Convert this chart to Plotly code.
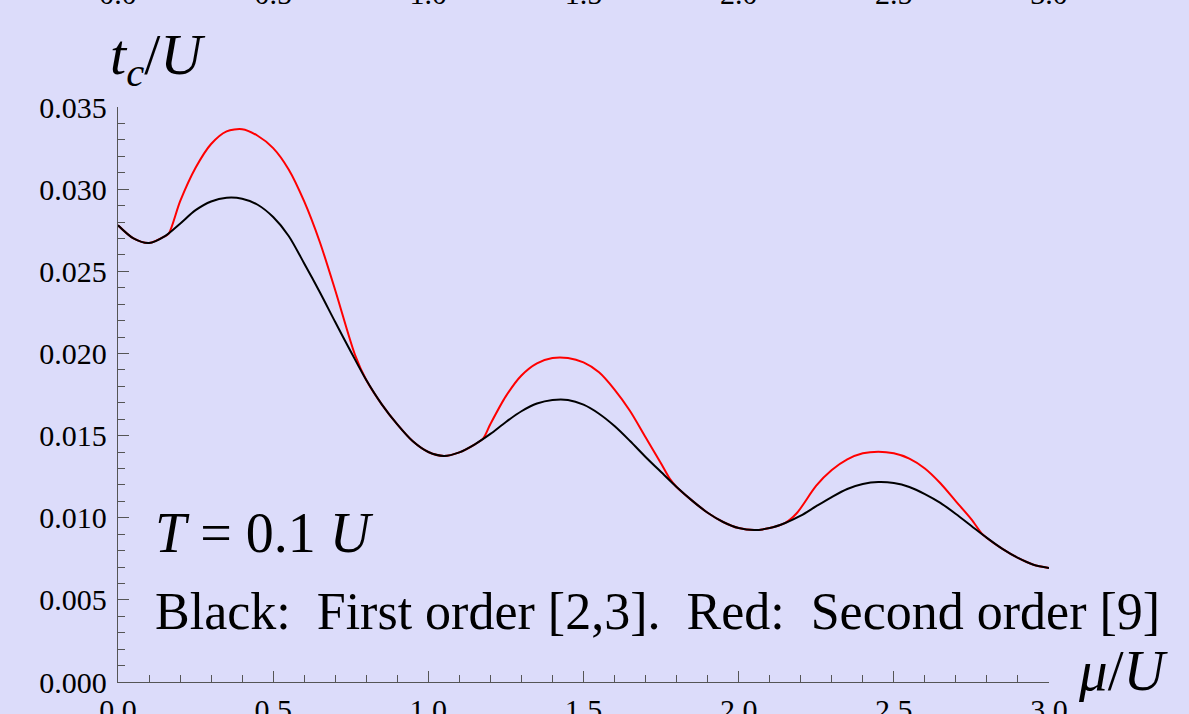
import plotly.graph_objects as go

# Black: first order
mu_black = [0.00, 0.05, 0.10, 0.15, 0.20, 0.25, 0.30, 0.35, 0.40, 0.45, 0.50, 0.55, 0.60,
            0.65, 0.70, 0.75, 0.80, 0.85, 0.90, 0.95, 1.00, 1.05, 1.10, 1.15, 1.20, 1.25,
            1.30, 1.35, 1.40, 1.45, 1.50, 1.55, 1.60, 1.65, 1.70, 1.75, 1.80, 1.85, 1.90,
            1.95, 2.00, 2.05, 2.10, 2.15, 2.20, 2.25, 2.30, 2.35, 2.40, 2.45, 2.50, 2.55,
            2.60, 2.65, 2.70, 2.75, 2.80, 2.85, 2.90, 2.95, 3.00]
tc_black = [0.02780, 0.02700, 0.02672, 0.02712, 0.02790, 0.02872, 0.02925, 0.02948, 0.02942,
            0.02905, 0.02830, 0.02715, 0.02548, 0.02374, 0.02191, 0.02012, 0.01838, 0.01690,
            0.01568, 0.01465, 0.01400, 0.01376, 0.01398, 0.01447, 0.01510, 0.01583, 0.01648,
            0.01695, 0.01717, 0.01717, 0.01688, 0.01633, 0.01558, 0.01467, 0.01370, 0.01278,
            0.01187, 0.01104, 0.01030, 0.00974, 0.00937, 0.00925, 0.00937, 0.00968, 0.01012,
            0.01070, 0.01126, 0.01175, 0.01205, 0.01217, 0.01211, 0.01187, 0.01144, 0.01090,
            0.01023, 0.00950, 0.00877, 0.00810, 0.00755, 0.00714, 0.00694]

# Red: second order (coincides with black outside the three bumps)
mu_red = [0.00, 0.05, 0.10, 0.15, 0.164, 0.20, 0.25, 0.30, 0.35, 0.40, 0.45, 0.50, 0.55, 0.60,
          0.65, 0.70, 0.764, 0.80, 0.85, 0.90, 0.95, 1.00, 1.05, 1.10, 1.15, 1.177, 1.20, 1.25,
          1.30, 1.35, 1.40, 1.45, 1.50, 1.55, 1.60, 1.65, 1.70, 1.75, 1.779, 1.80, 1.85, 1.90,
          1.95, 2.00, 2.05, 2.10, 2.15, 2.187, 2.25, 2.30, 2.35, 2.40, 2.45, 2.50, 2.55,
          2.60, 2.65, 2.70, 2.75, 2.783, 2.80, 2.85, 2.90, 2.95, 3.00]
tc_red = [0.02780, 0.02700, 0.02672, 0.02712, 0.02731, 0.02925, 0.03130, 0.03275, 0.03352,
          0.03365, 0.03325, 0.03250, 0.03120, 0.02925, 0.02680, 0.02385, 0.01990, 0.01838,
          0.01690, 0.01568, 0.01465, 0.01400, 0.01376, 0.01398, 0.01447, 0.01483, 0.01570,
          0.01740, 0.01866, 0.01940, 0.01972, 0.01972, 0.01945, 0.01885, 0.01780, 0.01650,
          0.01490, 0.01330, 0.01235, 0.01187, 0.01104, 0.01030, 0.00974, 0.00937, 0.00925,
          0.00937, 0.00968, 0.01027, 0.01195, 0.01290, 0.01355, 0.01392, 0.01402, 0.01392,
          0.01360, 0.01300, 0.01210, 0.01100, 0.00990, 0.00905, 0.00877, 0.00810, 0.00755,
          0.00714, 0.00694]

x_ticks = [0.0, 0.5, 1.0, 1.5, 2.0, 2.5, 3.0]
x_tick_text = ["0.0", "0.5", "1.0", "1.5", "2.0", "2.5", "3.0"]
y_ticks = [0.000, 0.005, 0.010, 0.015, 0.020, 0.025, 0.030, 0.035]
y_tick_text = ["0.000", "0.005", "0.010", "0.015", "0.020", "0.025", "0.030", "0.035"]

BG = "#dcdcfa"
AX = "#555555"
FONT = "Liberation Serif"

fig = go.Figure()
fig.add_trace(go.Scatter(x=mu_red, y=tc_red, mode="lines",
                         line=dict(color="#ff0000", width=2, shape="spline", smoothing=0.8),
                         cliponaxis=False, showlegend=False))
fig.add_trace(go.Scatter(x=mu_black, y=tc_black, mode="lines",
                         line=dict(color="#000000", width=2, shape="spline", smoothing=0.8),
                         cliponaxis=False, showlegend=False))
# trace tied to the top axis (labels only)
fig.add_trace(go.Scatter(x=x_ticks, y=[None] * len(x_ticks), xaxis="x2", mode="lines",
                         showlegend=False, hoverinfo="skip"))

fig.update_layout(
    width=1189, height=714,
    margin=dict(l=118, r=140, t=107, b=32),
    paper_bgcolor=BG, plot_bgcolor=BG,
    font=dict(family=FONT, color="black"),
    xaxis=dict(range=[0, 3], tickvals=x_ticks, ticktext=x_tick_text, ticks="inside", ticklen=11,
               tickcolor=AX, tickwidth=1.2, showline=True, linecolor=AX, linewidth=1.3,
               showgrid=False, zeroline=False, tickfont=dict(size=30, family=FONT),
               ticklabelstandoff=1, automargin=False,
               minor=dict(dtick=0.1, ticks="inside", ticklen=7, tickcolor=AX, tickwidth=1.2,
                          showgrid=False)),
    xaxis2=dict(range=[0, 3], overlaying="x", side="top", tickvals=x_ticks, ticktext=x_tick_text,
                ticks="", showline=False, showgrid=False, zeroline=False, automargin=False,
                tickfont=dict(size=30, family=FONT), ticklabelstandoff=96),
    yaxis=dict(range=[0, 0.035], tickvals=y_ticks, ticktext=y_tick_text, ticks="inside", ticklen=11,
               tickcolor=AX, tickwidth=1.2, showline=True, linecolor=AX, linewidth=1.3,
               showgrid=False, zeroline=False, tickfont=dict(size=30, family=FONT),
               ticklabelstandoff=4, automargin=False,
               minor=dict(dtick=0.001, ticks="inside", ticklen=7, tickcolor=AX, tickwidth=1.2,
                          showgrid=False)),
)

fig.add_annotation(text="<i>t</i><sub><i>c</i></sub>/<i>U</i>", xref="paper", yref="paper",
                   x=-10/931, y=1.0 + 10/575, xanchor="left", yanchor="bottom", showarrow=False,
                   font=dict(size=58, family=FONT))
fig.add_annotation(text="<i>μ</i>/<i>U</i>", xref="paper", yref="paper",
                   x=1.0 + 27/931, y=-22/575, xanchor="left", yanchor="bottom", showarrow=False,
                   font=dict(size=57, family=FONT))
fig.add_annotation(text="<i>T</i> = 0.1 <i>U</i>", xref="paper", yref="paper",
                   x=35/931, y=(682-566)/575, xanchor="left", yanchor="bottom", showarrow=False,
                   font=dict(size=56, family=FONT))
fig.add_annotation(text="Black:&nbsp;&nbsp;First order [2,3].&nbsp;&nbsp;Red:&nbsp;&nbsp;Second order [9]",
                   xref="paper", yref="paper",
                   x=35/931, y=(682-642)/575, xanchor="left", yanchor="bottom", showarrow=False,
                   font=dict(size=52, family=FONT))

fig.write_html("out.html")
